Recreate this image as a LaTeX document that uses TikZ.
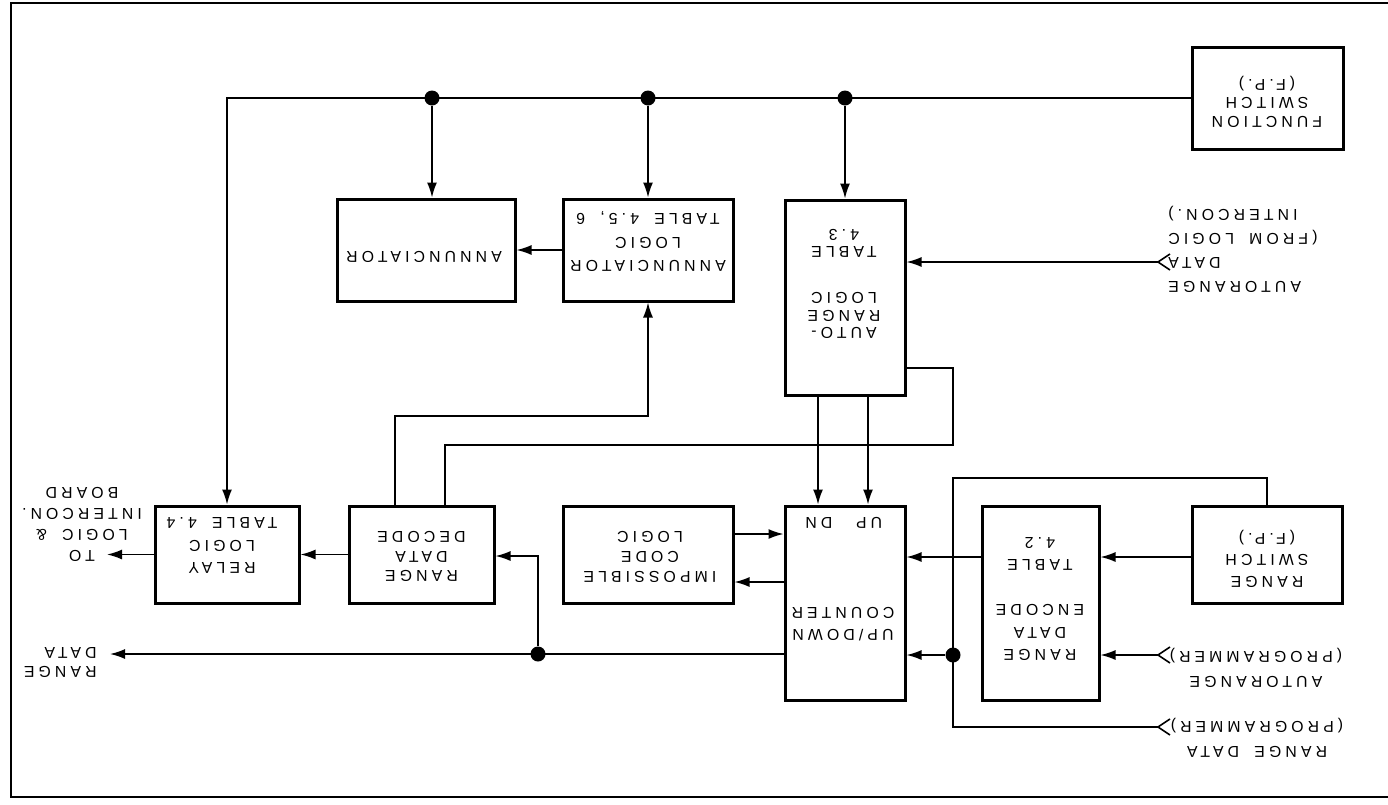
\documentclass[tikz,border=0pt]{standalone}
\usepackage{fontspec}
\setmainfont{Liberation Sans}[LetterSpace=26,WordSpace=1.8]
\usetikzlibrary{arrows.meta}
\begin{document}
\begin{tikzpicture}[x=0.5pt,y=-0.5pt,
  box/.style={draw, line width=1.5pt, inner sep=0pt},
  lbl/.style={align=center, inner sep=0pt},
  conn/.style={line width=0.8pt},
  arr/.style={conn, -{Latex[length=7.5pt,width=5pt]}},
  dot/.style={circle, fill, inner sep=0pt, minimum size=7.5pt},
  chev/.style={line width=0.8pt}]
\useasboundingbox (0,0) rectangle (1388,804);
\draw[line width=1pt] (1388,3) -- (11,3) -- (11,797) -- (1388,797);
\begin{scope}[shift={(1388,804)}, rotate=180, transform shape]
% ---------- boxes (upright frame, pixel units, y down) ----------
\node[box, minimum width=75.5pt, minimum height=51pt] (fs) at (120.5,706) {};
\node[box, minimum width=60pt, minimum height=97.5pt] (auto) at (543,506.5) {};
\node[box, minimum width=85pt, minimum height=51pt] (annl) at (740,554) {};
\node[box, minimum width=89pt, minimum height=51pt] (ann) at (962,554) {};
\node[box, minimum width=72pt, minimum height=48.5pt] (relay) at (1161,249.5) {};
\node[box, minimum width=72.5pt, minimum height=48.5pt] (dec) at (966.5,249.5) {};
\node[box, minimum width=85pt, minimum height=48.5pt] (imp) at (740,249.5) {};
\node[box, minimum width=60pt, minimum height=97pt] (cnt) at (543,201) {};
\node[box, minimum width=58.5pt, minimum height=97pt] (enc) at (347.5,201) {};
\node[box, minimum width=75pt, minimum height=48.5pt] (rs) at (121,249.5) {};
% ---------- box texts ----------
\node[lbl, font=\fontsize{7.9}{9.25}\selectfont] (fsT) at (121,702.5) {FUNCTION\\SWITCH\\(F.P.)};
\node[lbl, font=\fontsize{7.9}{8.75}\selectfont] (autoT) at (544,520) {AUTO-\\RANGE\\LOGIC\\[14.25pt]TABLE\\4.3};
\node[lbl, font=\fontsize{7.9}{11.75}\selectfont] (annlT) at (740,562.5) {ANNUNCIATOR\\LOGIC\\TABLE 4.5, 6};
\node[lbl, font=\fontsize{7.9}{10}\selectfont] (annT) at (964,547) {ANNUNCIATOR};
\node[lbl, font=\fontsize{7.9}{11.25}\selectfont] (relayT) at (1166,258.5) {RELAY\\LOGIC\\TABLE 4.4};
\node[lbl, font=\fontsize{7.9}{9.75}\selectfont] (decT) at (966.5,247.5) {RANGE\\DATA\\DECODE};
\node[lbl, font=\fontsize{7.9}{10}\selectfont] (impT) at (738,247) {IMPOSSIBLE\\CODE\\LOGIC};
\node[lbl, font=\fontsize{7.9}{11}\selectfont] (cntT) at (545,180) {UP/DOWN\\COUNTER};
\node[lbl, font=\fontsize{7.9}{10}\selectfont] (up) at (519,281) {UP};
\node[lbl, font=\fontsize{7.9}{10}\selectfont] (dn) at (569,281) {DN};
\node[lbl, font=\fontsize{7.9}{11.25}\selectfont] (encT) at (348,205) {RANGE\\DATA\\ENCODE\\[11.25pt]TABLE\\4.2};
\node[lbl, font=\fontsize{7.9}{10.75}\selectfont] (rsT) at (121,245.5) {RANGE\\SWITCH\\(F.P.)};
% ---------- outside labels ----------
\node[lbl, align=right, anchor=east, font=\fontsize{7.9}{12}\selectfont] (adL) at (220,555) {AUTORANGE\\DATA\\(FROM LOGIC\\INTERCON.)};
\node[lbl, font=\fontsize{7.9}{12.5}\selectfont] (apL) at (132,136.5) {AUTORANGE\\(PROGRAMMER)};
\node[lbl, font=\fontsize{7.9}{12.5}\selectfont] (rdpL) at (131,66.5) {RANGE DATA\\(PROGRAMMER)};
\node[lbl, font=\fontsize{7.9}{10.5}\selectfont] (toL) at (1306,279.5) {TO\\LOGIC \&\\INTERCON.\\BOARD};
\node[lbl, align=left, anchor=west, font=\fontsize{7.9}{9.5}\selectfont] (rdL) at (1291,141.5) {RANGE\\DATA};
% ---------- free ends ----------
\coordinate (chAD) at (230,542);
\coordinate (chAP) at (230,149);
\coordinate (chRDP) at (230,77);
\coordinate (rdout) at (1278,150);
\coordinate (toout) at (1281,249.5);
\coordinate (decA) at (993,0 |- dec.south);
\coordinate (decB) at (943,0 |- dec.south);
% ---------- dots ----------
\node[dot] (d1) at (956,706) {};
\node[dot] (d2) at (740,706) {};
\node[dot] (d3) at (543,706) {};
\node[dot] (d4) at (850,150) {};
\node[dot] (d5) at (435,149) {};
% ---------- connectors ----------
\draw[arr] (fs.east) -| (relay.south);
\draw[arr] (d1) -- (d1 |- ann.south);
\draw[arr] (d2) -- (d2 |- annl.south);
\draw[arr] (d3) -- (auto.south);
\draw[arr] (annl.east) -- (ann.west);
\draw[arr] (decA) |- (740,388) -- (annl.north);
\draw[conn] (decB) |- (435,359) |- (auto.west |- 0,436);
\draw[arr] (520,0 |- auto.north) -- (520,0 |- cnt.south);
\draw[arr] (570,0 |- auto.north) -- (570,0 |- cnt.south);
\draw[arr] (imp.west |- 0,270) -- (cnt.east |- 0,270);
\draw[arr] (cnt.east |- 0,222) -- (imp.west |- 0,222);
\draw[arr] (cnt.east |- 0,150) -- (rdout);
\draw[arr] (d4) |- (dec.west |- 0,248);
\draw[arr] (dec.east) -- (relay.west);
\draw[arr] (relay.east) -- (toout);
\draw[arr] (enc.east |- 0,247) -- (cnt.west |- 0,247);
\draw[arr] (rs.east |- 0,247) -- (enc.west |- 0,247);
\draw[arr] (chAP) -- (enc.west |- chAP);
\draw[arr] (d5) -- (cnt.west |- d5);
\draw[conn] (rs.south) |- (435,326) -- (435,77) -- (chRDP);
\draw[arr] (chAD) -- (auto.west |- chAD);
% ---------- chevrons ----------
\draw[chev] (218,534) -- (chAD) -- (218,550);
\draw[chev] (218,141) -- (chAP) -- (218,157);
\draw[chev] (218,69) -- (chRDP) -- (218,85);
\end{scope}
\end{tikzpicture}
\end{document}
